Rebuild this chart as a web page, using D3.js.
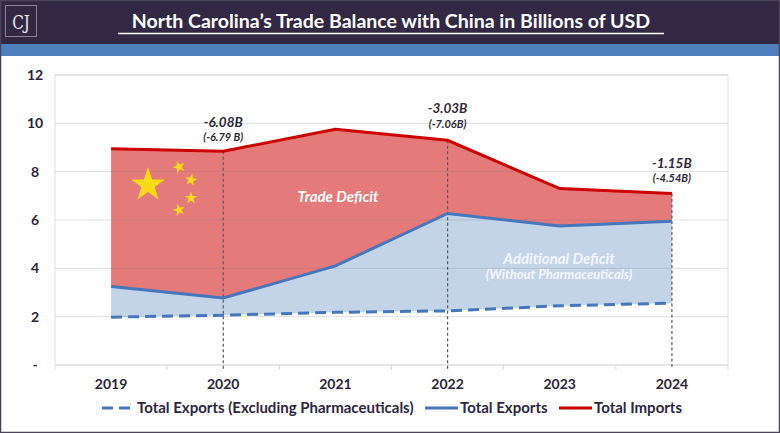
<!DOCTYPE html>
<html>
<head>
  <meta charset="utf-8">
  <script src="https://cdn.jsdelivr.net/npm/d3@7"></script>
  <style>
    body { margin: 0; background: #fff; }
    text { font-family: "Lato", "Open Sans", sans-serif; }
  </style>
</head>
<body>
<script>
  // chart data
  var years = ["2019", "2020", "2021", "2022", "2023", "2024"];
  var totalImports = [8.95, 8.85, 9.75, 9.30, 7.30, 7.10];
  var totalExports = [3.25, 2.77, 4.10, 6.27, 5.75, 5.95];
  var exportsExPharma = [1.98, 2.06, 2.18, 2.24, 2.45, 2.56];
  var yTicks = [0, 2, 4, 6, 8, 10, 12];
  // deficit callouts: year, deficit, deficit without pharma
  var calloutYears = ["2020", "2022", "2024"];
  var calloutMain = ["-6.08B", "-3.03B", "-1.15B"];
  var calloutSub = ["(-6.79 B)", "(-7.06B)", "(-4.54B)"];

  var W = 780, H = 433;
  var svg = d3.select("body").append("svg").attr("width", W).attr("height", H);

  // header band
  svg.append("rect").attr("x", 0).attr("y", 0).attr("width", W).attr("height", 44).attr("fill", "#322843");
  svg.append("rect").attr("x", 0).attr("y", 44).attr("width", W).attr("height", 12).attr("fill", "#4f7fbd");
  svg.append("rect").attr("x", 5.5).attr("y", 5.5).attr("width", 31).attr("height", 31)
    .attr("fill", "none").attr("stroke", "#8a8496").attr("stroke-width", 1);
  svg.append("text").attr("x", 21).attr("y", 29).attr("text-anchor", "middle")
    .style("font-family", "DejaVu Serif, serif").style("font-size", "19px").attr("fill", "#e8e6ee")
    .attr("transform", "translate(21,0) scale(0.8,1) translate(-21,0)")
    .text("CJ");
  svg.append("text").attr("x", 391).attr("y", 28).attr("text-anchor", "middle")
    .style("font-size", "19.5px").style("font-weight", "bold").attr("fill", "#fff")
    .text("North Carolina\u2019s Trade Balance with China in Billions of USD");
  svg.append("line").attr("x1", 118).attr("x2", 664).attr("y1", 33.5).attr("y2", 33.5)
    .attr("stroke", "#fff").attr("stroke-width", 1.3);

  // plot area
  var pL = 55, pR = 728, pT = 75, pB = 365;
  var x = d3.scaleBand().domain(years).range([pL, pR]);
  var y = d3.scaleLinear().domain([0, 12]).range([pB, pT]);
  var cx = function (d) { return x(d) + x.bandwidth() / 2; };

  // frame
  svg.append("rect").attr("x", pL).attr("y", pT).attr("width", pR - pL).attr("height", pB - pT)
    .attr("fill", "none").attr("stroke", "#e2e2e2").attr("stroke-width", 1);

  var imp = years.map(function (d, i) { return { year: d, hi: totalImports[i], lo: totalExports[i] }; });
  var exp = years.map(function (d, i) { return { year: d, hi: totalExports[i], lo: exportsExPharma[i] }; });

  var area = d3.area().x(function (d) { return cx(d.year); })
    .y0(function (d) { return y(d.lo); }).y1(function (d) { return y(d.hi); });

  svg.append("path").datum(imp).attr("d", area).attr("fill", "#e57a7a");
  svg.append("path").datum(exp).attr("d", area).attr("fill", "#c3d4e8");

  // gridlines, drawn over the fills with low alpha
  svg.append("g").selectAll("line").data(yTicks.slice(1)).enter().append("line")
    .attr("x1", pL).attr("x2", pR)
    .attr("y1", function (d) { return y(d); }).attr("y2", function (d) { return y(d); })
    .attr("stroke", "rgba(120,120,120,0.22)").attr("stroke-width", 1);

  // x axis with ticks at band edges
  svg.append("line").attr("x1", pL).attr("x2", pR).attr("y1", pB).attr("y2", pB)
    .attr("stroke", "#d9d9d9").attr("stroke-width", 1);
  var edges = years.map(function (d) { return x(d); }).concat([pR]);
  svg.append("g").selectAll("line").data(edges).enter().append("line")
    .attr("x1", function (d) { return d; }).attr("x2", function (d) { return d; })
    .attr("y1", pB).attr("y2", pB + 5).attr("stroke", "#d9d9d9");

  svg.append("g").selectAll("text").data(years).enter().append("text")
    .attr("x", cx).attr("y", pB + 24).attr("text-anchor", "middle")
    .style("font-size", "14px").style("font-weight", "bold").attr("fill", "#2a2438")
    .text(function (d) { return d; });

  svg.append("g").selectAll("text").data(yTicks).enter().append("text")
    .attr("x", 35).attr("y", function (d) { return y(d) + 5; }).attr("text-anchor", "middle")
    .style("font-size", "14px").style("font-weight", "bold").attr("fill", "#2a2438")
    .text(function (d) { return d === 0 ? "-" : d; });

  // dashed drop lines at callout years
  svg.append("g").selectAll("line").data(calloutYears).enter().append("line")
    .attr("x1", cx).attr("x2", cx)
    .attr("y1", function (d) { return y(totalImports[years.indexOf(d)]); })
    .attr("y2", pB + 4)
    .attr("stroke", "#5a5566").attr("stroke-width", 1.2).attr("stroke-dasharray", "3,2.5");

  // series lines
  var line = d3.line().x(function (d) { return cx(d.year); }).y(function (d) { return y(d.v); });
  function pts(arr) { return years.map(function (d, i) { return { year: d, v: arr[i] }; }); }

  svg.append("path").datum(pts(exportsExPharma)).attr("d", line).attr("fill", "none")
    .attr("stroke", "#4676bb").attr("stroke-width", 3).attr("stroke-dasharray", "11,6");
  svg.append("path").datum(pts(totalExports)).attr("d", line).attr("fill", "none")
    .attr("stroke", "#4676bb").attr("stroke-width", 3);
  svg.append("path").datum(pts(totalImports)).attr("d", line).attr("fill", "none")
    .attr("stroke", "#cc0000").attr("stroke-width", 3);

  // china flag stars
  function star(r) {
    var p = [];
    for (var i = 0; i < 10; i++) {
      var a = -Math.PI / 2 + i * Math.PI / 5;
      var rr = i % 2 === 0 ? r : r * 0.382;
      p.push([rr * Math.cos(a), rr * Math.sin(a)]);
    }
    return "M" + p.join("L") + "Z";
  }
  svg.append("path").attr("d", star(18)).attr("transform", "translate(148,185)").attr("fill", "#f7db17");
  var small = [[179, 167, -20], [191, 180, 10], [191, 198, 0], [179, 210, -15]];
  small.forEach(function (s) {
    svg.append("path").attr("d", star(6.5))
      .attr("transform", "translate(" + s[0] + "," + s[1] + ") rotate(" + s[2] + ")")
      .attr("fill", "#f7db17");
  });

  // callouts
  var calloutY = [[127, 141], [113, 128], [168, 182]];
  calloutYears.forEach(function (d, i) {
    svg.append("text").attr("x", cx(d)).attr("y", calloutY[i][0]).attr("text-anchor", "middle")
      .style("font-size", "13.5px").style("font-weight", "bold").style("font-style", "italic")
      .attr("fill", "#2d2838").text(calloutMain[i]);
    svg.append("text").attr("x", cx(d)).attr("y", calloutY[i][1]).attr("text-anchor", "middle")
      .style("font-size", "11px").style("font-weight", "bold").style("font-style", "italic")
      .attr("fill", "#2d2838").text(calloutSub[i]);
  });

  svg.append("text").attr("x", 338).attr("y", 202).attr("text-anchor", "middle")
    .style("font-size", "15px").style("font-weight", "bold").style("font-style", "italic")
    .attr("fill", "#fff").text("Trade Deficit");
  svg.append("text").attr("x", 559).attr("y", 264).attr("text-anchor", "middle")
    .style("font-size", "15px").style("font-weight", "bold").style("font-style", "italic")
    .attr("fill", "#f4f6fa").text("Additional Deficit");
  svg.append("text").attr("x", 559).attr("y", 279).attr("text-anchor", "middle")
    .style("font-size", "13px").style("font-weight", "bold").style("font-style", "italic")
    .attr("fill", "#f4f6fa").text("(Without Pharmaceuticals)");

  // legend
  var legend = [
    { label: "Total Exports (Excluding Pharmaceuticals)", color: "#4676bb", dash: "11,6", x: 102 },
    { label: "Total Exports", color: "#4676bb", dash: null, x: 425 },
    { label: "Total Imports", color: "#cc0000", dash: null, x: 559 }
  ];
  var lg = svg.append("g").selectAll("g").data(legend).enter().append("g");
  lg.append("line").attr("x1", function (d) { return d.x; }).attr("x2", function (d) { return d.x + 33; })
    .attr("y1", 408).attr("y2", 408).attr("stroke", function (d) { return d.color; })
    .attr("stroke-width", 3).attr("stroke-dasharray", function (d) { return d.dash; });
  lg.append("text").attr("x", function (d) { return d.x + 35; }).attr("y", 413)
    .style("font-size", "15px").style("font-weight", "bold").attr("fill", "#2d2640")
    .text(function (d) { return d.label; });

  // outer border
  svg.append("rect").attr("x", 0.5).attr("y", 0.5).attr("width", W - 1).attr("height", H - 1)
    .attr("fill", "none").attr("stroke", "#4a4458").attr("stroke-width", 1.5);
</script>
</body>
</html>
